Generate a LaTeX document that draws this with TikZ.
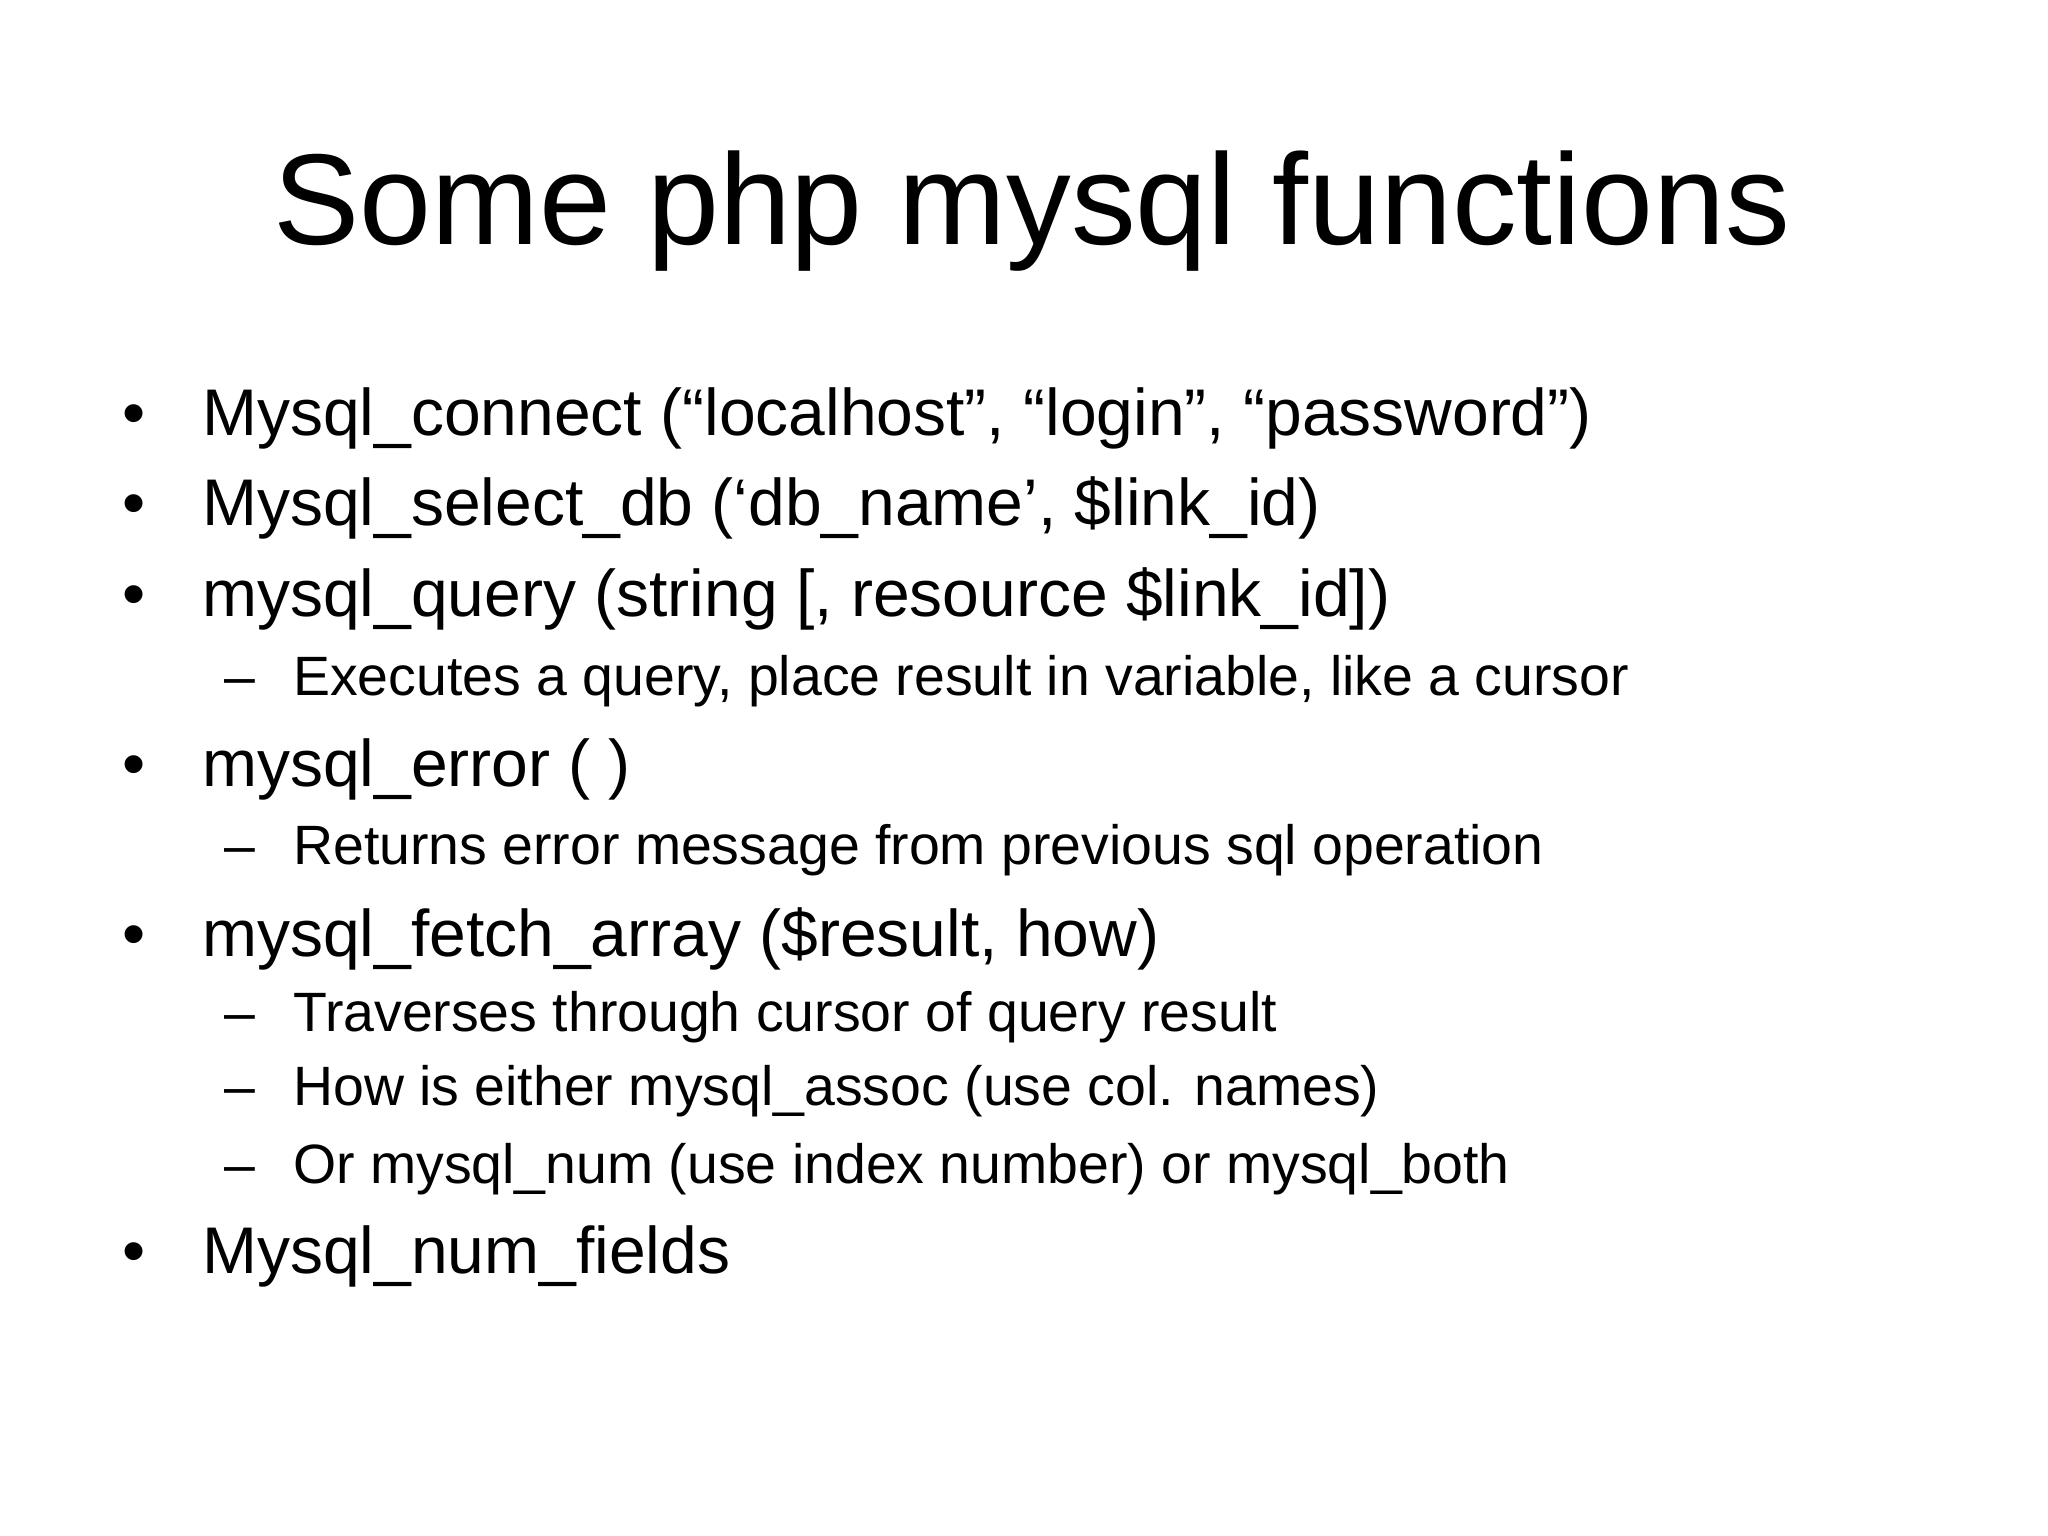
\documentclass[tikz,border=0pt]{standalone}
\usepackage{fontspec}
\setmainfont{Liberation Sans}
\begin{document}
\begin{tikzpicture}[x=1pt,y=-1pt,
  main/.style={anchor=base west,inner sep=0pt,font=\fontsize{50}{60}\selectfont},
  sub/.style={anchor=base west,inner sep=0pt,font=\fontsize{42}{50}\selectfont},
  ttl/.style={anchor=base,inner sep=0pt,font=\fontsize{98}{110}\selectfont}]
\useasboundingbox (0,0) rectangle (1552,1164);
\node[ttl] (t) at (782,185) {Some php mysql functions};
\foreach \n/\y/\s in {a/330/{Mysql\_connect (“localhost”, “login”, “password”)},
  b/398/{Mysql\_select\_db (‘db\_name’, \$link\_id)},
  c/467/{mysql\_query (string [, resource \$link\_id])},
  d/596/{mysql\_error ( )},
  e/725/{mysql\_fetch\_array (\$result, how)},
  f/965/{Mysql\_num\_fields}}{
  \node[main] (b\n) at (93,\y) {•};
  \node[main] (m\n) at (153,\y) {\s};
}
\foreach \n/\y/\s in {a/527/{Executes a query, place result in variable, like a cursor},
  b/655/{Returns error message from previous sql operation},
  c/782/{Traverses through cursor of query result},
  d/838/{How is either mysql\_assoc (use col. names)},
  e/897/{Or mysql\_num (use index number) or mysql\_both}}{
  \node[sub] (d\n) at (170,\y) {–};
  \node[sub] (s\n) at (222,\y) {\s};
}
\end{tikzpicture}
\end{document}
